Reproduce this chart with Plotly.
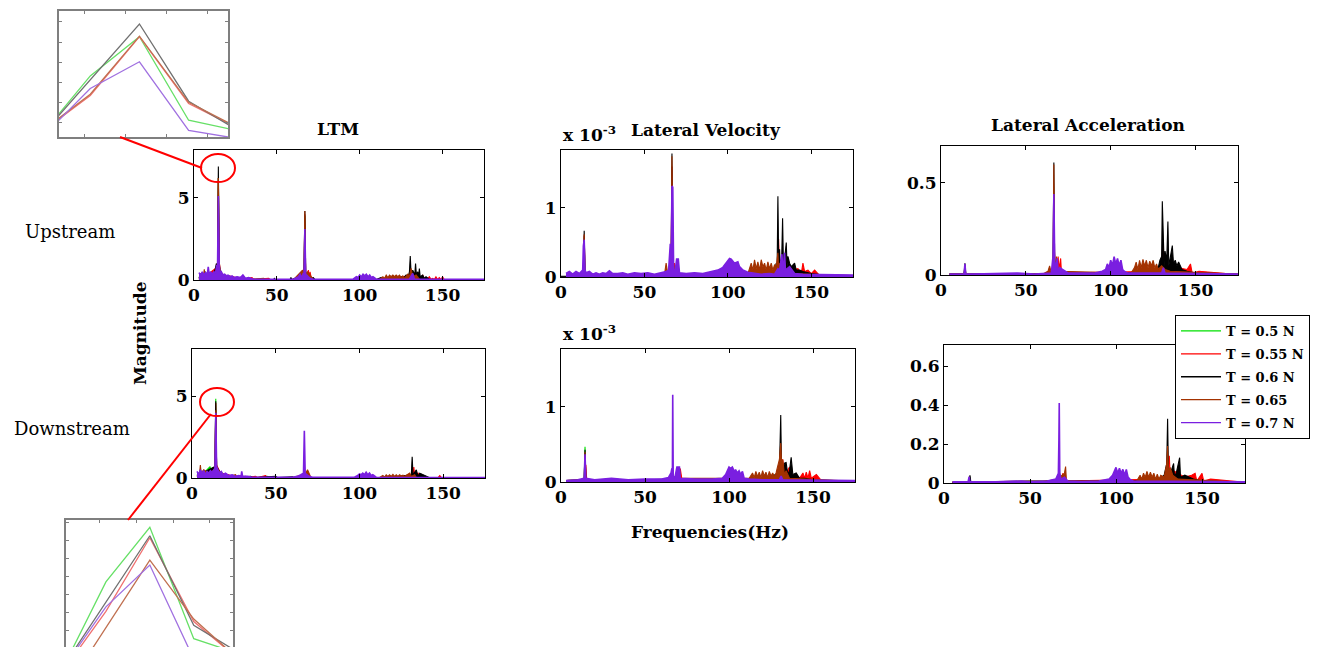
import plotly.graph_objects as go

W, H = 1343, 647

SERIES = ["T = 0.5 N", "T = 0.55 N", "T = 0.6 N", "T = 0.65", "T = 0.7 N"]
COLORS = ["#00e000", "#ff0000", "#000000", "#a33200", "#7a1fe0"]
INSET_COLORS = ["#66e066", "#f07070", "#707070", "#c07050", "#a070e0"]
X_TICKS = [0, 50, 100, 150]

# ---------------- LTM upstream (frequency Hz, magnitude) ----------------
LTM_UP_G = [(3,0.2),(5,0.3),(7,0.25),(9,0.35),(10.5,0.3),(12,0.25),(14.2,0.6),(14.7,6.2),(15.2,0.8),(17,0.3),(20,0.2),(25,0.05),(35,0.03),(60,0.03),(66.4,0.05),(66.9,3.9),(67.4,0.05),(80,0.02),(130,0.03),(131,0.5),(132,0.03),(175,0.02)]
LTM_UP_R = [(3,0.1),(5,0.3),(9,0.4),(13,0.7),(14.2,0.9),(14.7,6.2),(15.2,1.1),(16,0.4),(18,0.3),(21,0.25),(24,0.2),(26,0.03),(28,0.15),(29,0.03),(35,0.15),(36,0.03),(45,0.1),(46,0.03),(60,0.03),(66.4,0.1),(66.9,4.0),(67.4,0.1),(68.5,0.05),(69,0.6),(69.5,0.1),(70,0.5),(71,0.03),(112,0.03),(115,0.1),(116,0.03),(120,0.2),(121,0.03),(128,0.25),(129,0.05),(130,0.3),(131,0.05),(132,0.5),(133,0.1),(134,0.4),(135,0.05),(136,0.2),(137,0.05),(138,0.3),(139,0.05),(140,0.15),(141,0.05),(142,0.2),(143,0.05),(144,0.1),(145,0.03),(146,0.2),(147,0.03),(148,0.15),(149,0.03),(150,0.2),(151,0.03),(175,0.02)]
LTM_UP_K = [(3,0.1),(4,0.4),(5,0.1),(6,0.2),(7,0.5),(8,0.1),(9,0.2),(12,0.3),(13.5,1.0),(14.2,0.8),(14.7,6.9),(15.2,0.9),(16,0.4),(20,0.2),(22,0.03),(32,0.03),(32.5,0.15),(33,0.03),(48,0.03),(48.5,0.1),(49,0.03),(58,0.03),(58.5,0.15),(59,0.03),(66.4,0.3),(66.9,4.2),(67.4,0.4),(68,0.4),(69,0.05),(72,0.15),(73,0.03),(110,0.03),(113,0.15),(114,0.03),(125,0.2),(126,0.05),(128,0.3),(129,0.1),(130,0.5),(130.5,1.46),(131,0.4),(132,0.6),(133.2,0.3),(133.7,1.0),(134.2,0.3),(135,0.5),(135.5,0.2),(136,0.7),(136.5,0.2),(138,0.3),(139,0.1),(140,0.2),(142,0.05),(160,0.02),(175,0.02)]
LTM_UP_B = [(3,0.1),(5.7,0.2),(6.2,0.65),(6.7,0.2),(10,0.3),(13,0.4),(14.2,1.0),(14.7,6.2),(15.2,1.1),(16,0.5),(18,0.3),(22,0.2),(23,0.03),(30,0.2),(31,0.03),(42,0.1),(43,0.03),(60,0.03),(65.5,0.6),(66,0.1),(66.4,0.5),(66.9,4.2),(67.4,0.4),(68.5,0.5),(70,0.3),(72,0.03),(112,0.03),(114,0.2),(115,0.1),(116,0.3),(117,0.15),(118,0.3),(119,0.2),(120,0.3),(121,0.2),(122,0.3),(123,0.2),(124,0.3),(125,0.15),(126,0.25),(127,0.1),(128,0.2),(129,0.35),(130,0.2),(131,0.7),(132,0.2),(134,0.3),(136,0.05),(175,0.02)]
LTM_UP_P = [(3,0.45),(4,0.3),(5,0.5),(6,0.3),(7,0.45),(8,0.3),(8.6,0.8),(9.2,0.3),(10,0.5),(11,0.35),(12,0.5),(13,0.4),(13.7,0.9),(14.2,0.7),(14.7,5.1),(15.2,0.9),(15.8,0.4),(16.5,0.5),(17.5,0.3),(18.5,0.35),(19.5,0.25),(20.5,0.3),(22,0.2),(23,0.25),(24,0.15),(26,0.2),(28,0.15),(29.5,0.3),(31,0.1),(33,0.15),(36,0.05),(60,0.05),(63,0.2),(64,0.35),(65,0.15),(66,0.4),(66.4,0.3),(66.9,3.1),(67.4,0.3),(68,0.3),(69,0.2),(70,0.1),(72,0.05),(96,0.05),(98,0.2),(99,0.15),(100,0.3),(101,0.2),(102,0.35),(103,0.25),(104,0.35),(105,0.2),(106,0.3),(107,0.15),(108,0.2),(110,0.05),(130,0.05),(132,0.4),(133,0.05),(175,0.05)]

# ---------------- Lateral velocity upstream (x 1e-3) ----------------
LV_UP_G = [(3,0.02),(13.4,0.02),(13.9,0.5),(14.4,0.02),(66,0.02),(66.5,1.2),(67,0.02),(105,0.03),(130,0.03),(175,0.01)]
LV_UP_R = [(3,0.02),(13.4,0.03),(13.9,0.6),(14.4,0.03),(66,0.03),(66.5,1.6),(67,0.05),(68,0.2),(69,0.03),(125,0.03),(130,0.1),(130.4,0.55),(131,0.1),(134,0.2),(135,0.05),(138,0.1),(142,0.12),(144,0.05),(145,0.2),(146,0.08),(148,0.1),(150,0.05),(152,0.1),(155,0.02),(175,0.01)]
LV_UP_K = [(0,0.01),(3,0.01),(13.4,0.03),(13.9,0.67),(14.4,0.03),(30,0.03),(60,0.03),(66,0.05),(66.5,1.79),(67,0.05),(100,0.03),(120,0.04),(128,0.1),(129,0.2),(129.5,0.1),(130,1.17),(130.5,0.15),(131,0.4),(131.5,0.1),(132.3,0.3),(132.8,0.85),(133.3,0.2),(134,0.25),(135,0.5),(135.5,0.15),(136,0.3),(137,0.2),(138,0.15),(140,0.2),(141,0.1),(143,0.1),(145,0.08),(150,0.05),(160,0.02),(175,0.02)]
LV_UP_B = [(3,0.02),(13.4,0.03),(13.9,0.62),(14.4,0.03),(40,0.03),(62,0.03),(63,0.2),(64,0.04),(66,0.2),(66.5,1.75),(67,0.2),(70,0.04),(112,0.05),(114,0.2),(115,0.1),(116,0.25),(117,0.12),(118,0.22),(119,0.1),(120,0.25),(121,0.15),(122,0.2),(123,0.1),(124,0.22),(125,0.12),(126,0.2),(127,0.1),(128,0.18),(129,0.15),(130,0.35),(130.5,0.1),(131,0.2),(133,0.1),(136,0.05),(175,0.02)]
LV_UP_P = [(3,0.05),(5,0.08),(7,0.04),(9,0.08),(11,0.05),(13,0.1),(13.4,0.45),(13.9,0.54),(14.4,0.1),(15,0.06),(17,0.08),(19,0.04),(21,0.06),(23,0.04),(25,0.06),(27,0.05),(29,0.09),(31,0.05),(34,0.05),(37,0.06),(40,0.04),(44,0.06),(48,0.05),(52,0.06),(56,0.04),(60,0.06),(63,0.08),(64.5,0.1),(65.5,0.48),(66,0.2),(66.5,1.32),(67,1.3),(67.5,0.1),(68.5,0.1),(69.3,0.26),(70.3,0.26),(71,0.06),(75,0.05),(80,0.06),(85,0.05),(90,0.08),(94,0.1),(97,0.14),(99,0.2),(101,0.27),(102,0.26),(103,0.23),(104,0.2),(105,0.21),(106,0.22),(107,0.15),(109,0.1),(112,0.07),(116,0.05),(120,0.04),(125,0.05),(128,0.04),(130,0.12),(131,0.1),(132.4,0.33),(133,0.06),(134,0.35),(134.5,0.1),(137,0.15),(140,0.05),(145,0.04),(150,0.04),(160,0.03),(175,0.03)]

# ---------------- Lateral acceleration upstream ----------------
LA_UP_G = [(5,0.005),(13.6,0.005),(14.1,0.04),(14.6,0.005),(66,0.005),(66.5,0.3),(67,0.005),(175,0.003)]
LA_UP_R = [(5,0.005),(60,0.005),(66,0.02),(66.7,0.15),(67.5,0.02),(68.5,0.04),(69,0.1),(69.5,0.03),(70.5,0.09),(71,0.01),(128,0.02),(130,0.05),(130.8,0.19),(131.3,0.03),(134,0.05),(140,0.04),(145,0.03),(147,0.06),(148,0.01),(152,0.02),(175,0.003)]
LA_UP_K = [(5,0.005),(13.6,0.005),(14.1,0.064),(14.6,0.005),(60,0.005),(66,0.02),(66.5,0.61),(67,0.02),(90,0.008),(110,0.01),(120,0.02),(128,0.04),(129,0.08),(130,0.1),(130.4,0.40),(131,0.12),(131.5,0.05),(132,0.13),(133,0.08),(133.7,0.29),(134.2,0.05),(135,0.09),(136.3,0.16),(137,0.06),(138,0.08),(139,0.05),(140,0.07),(142,0.03),(145,0.02),(150,0.01),(175,0.005)]
LA_UP_B = [(5,0.005),(13.6,0.005),(14.1,0.05),(14.6,0.005),(60,0.005),(63,0.02),(64,0.05),(65,0.01),(66,0.03),(66.5,0.6),(67,0.03),(68,0.1),(69,0.02),(112,0.01),(114,0.04),(115,0.07),(116,0.03),(117,0.08),(118,0.04),(119,0.085),(120,0.05),(121,0.08),(122,0.04),(123,0.075),(124,0.05),(125,0.08),(126,0.04),(127,0.06),(128,0.03),(130,0.05),(132,0.03),(135,0.02),(175,0.005)]
LA_UP_P = [(5,0.005),(13.6,0.005),(14.1,0.06),(14.6,0.005),(25,0.006),(40,0.008),(45,0.01),(55,0.005),(65,0.01),(66,0.1),(66.5,0.44),(67,0.08),(67.5,0.02),(68,0.06),(68.5,0.09),(69,0.02),(70,0.04),(75,0.01),(90,0.01),(95,0.02),(97,0.03),(98,0.06),(99,0.04),(100,0.08),(101,0.05),(102,0.1),(103,0.06),(104,0.09),(105,0.05),(106,0.08),(107,0.03),(108,0.02),(110,0.01),(130,0.01),(131,0.04),(132,0.01),(175,0.005)]

# ---------------- LTM downstream ----------------
LTM_DN_G = [(3,0.2),(5,0.4),(7,0.3),(9,0.5),(10.8,0.7),(11.5,0.3),(12.5,0.6),(13.7,0.5),(14.2,4.86),(14.7,0.6),(16,0.4),(18,0.3),(20,0.2),(25,0.05),(40,0.03),(45,0.1),(46,0.02),(66.6,0.02),(67.1,0.2),(67.6,0.02),(130,0.03),(175,0.02)]
LTM_DN_R = [(3,0.1),(6,0.4),(9,0.3),(13.7,0.6),(14.2,4.6),(14.7,0.8),(17,0.3),(22,0.2),(24,0.03),(30,0.15),(31,0.03),(38,0.1),(39,0.03),(44,0.15),(45,0.03),(67,0.05),(68.5,0.3),(70,0.03),(120,0.03),(130,0.2),(132,0.1),(132.5,0.67),(133,0.1),(135,0.3),(136,0.05),(137,0.15),(138,0.03),(147,0.03),(148,0.15),(149,0.03),(175,0.02)]
LTM_DN_K = [(3,0.1),(5,0.3),(8,0.4),(13.7,0.7),(14.2,4.7),(14.7,0.7),(17,0.3),(20,0.03),(25,0.15),(26,0.03),(35,0.1),(36,0.03),(50,0.1),(51,0.03),(60,0.08),(61,0.03),(66,0.15),(67.1,0.3),(68,0.05),(70,0.03),(120,0.05),(128,0.15),(130,0.2),(131,0.2),(131.5,1.3),(132,0.2),(134,0.5),(135,0.1),(136,0.3),(138,0.2),(140,0.1),(142,0.02),(175,0.02)]
LTM_DN_B = [(3,0.1),(4.5,0.3),(5,0.8),(5.5,0.3),(7,0.5),(10,0.3),(13.7,0.5),(14.2,4.15),(14.7,0.6),(18,0.2),(20,0.03),(26,0.2),(27,0.03),(32,0.1),(33,0.03),(60,0.03),(66,0.2),(68,0.3),(69,0.5),(70,0.2),(71,0.03),(112,0.03),(114,0.15),(115,0.05),(116,0.2),(117,0.1),(118,0.2),(119,0.1),(120,0.22),(121,0.1),(122,0.2),(123,0.1),(124,0.2),(125,0.12),(126,0.18),(127,0.1),(128,0.15),(130,0.3),(131,0.1),(133,0.2),(134,0.03),(175,0.02)]
LTM_DN_P = [(3,0.4),(4,0.2),(5,0.5),(6,0.3),(7,0.45),(8,0.2),(9,0.4),(10,0.3),(11,0.45),(12,0.35),(13,0.5),(13.7,0.6),(14.2,4.0),(14.7,0.7),(15.5,0.5),(16.5,0.3),(17.5,0.4),(18.5,0.2),(20,0.3),(22,0.15),(24,0.2),(26,0.1),(28,0.15),(29.3,0.1),(29.7,0.4),(30.2,0.1),(33,0.1),(36,0.05),(60,0.05),(63,0.1),(65,0.2),(66.6,0.3),(67.1,2.9),(67.6,0.3),(68.5,0.2),(70,0.1),(72,0.05),(97,0.05),(99,0.15),(100,0.25),(101,0.2),(102,0.3),(103,0.2),(104,0.35),(105,0.2),(106,0.3),(107,0.15),(108,0.2),(110,0.05),(175,0.03)]

# ---------------- Lateral velocity downstream (x 1e-3) ----------------
LV_DN_G = [(3,0.02),(13.8,0.03),(14.3,0.47),(14.8,0.03),(40,0.02),(66,0.02),(70,0.02),(101,0.03),(130,0.02),(131,0.06),(132,0.02),(175,0.01)]
LV_DN_R = [(3,0.02),(14.3,0.03),(14.8,0.23),(15.3,0.03),(30,0.03),(66,0.03),(70,0.03),(71,0.18),(72,0.03),(125,0.03),(130,0.1),(132,0.3),(133,0.08),(136,0.2),(137,0.05),(140,0.1),(142,0.05),(144,0.12),(145,0.05),(146,0.13),(147,0.05),(148,0.15),(149,0.05),(152,0.1),(155,0.02),(175,0.01)]
LV_DN_K = [(3,0.02),(13.8,0.03),(14.3,0.43),(14.8,0.03),(50,0.03),(66,0.04),(105,0.04),(120,0.05),(128,0.1),(130,0.15),(130.8,0.89),(131.3,0.1),(132,0.15),(133,0.25),(134,0.26),(135,0.1),(136,0.15),(137,0.33),(138,0.1),(140,0.12),(142,0.05),(145,0.05),(150,0.03),(175,0.01)]
LV_DN_B = [(3,0.02),(13.8,0.03),(14.3,0.4),(14.8,0.03),(60,0.03),(66,0.04),(70,0.1),(70.5,0.2),(71,0.05),(112,0.05),(114,0.12),(115,0.06),(116,0.14),(117,0.07),(118,0.13),(119,0.06),(120,0.15),(121,0.08),(122,0.13),(123,0.06),(124,0.14),(125,0.08),(126,0.12),(127,0.07),(128,0.12),(129,0.2),(130,0.3),(130.8,0.52),(131.3,0.25),(132,0.3),(133,0.1),(134,0.15),(136,0.05),(175,0.01)]
LV_DN_P = [(3,0.02),(10,0.03),(13.8,0.05),(14.3,0.37),(14.8,0.05),(20,0.03),(30,0.05),(40,0.03),(50,0.04),(60,0.04),(64,0.06),(65.5,0.12),(66,0.18),(66.3,0.05),(66.5,1.16),(66.8,0.05),(68,0.08),(69,0.2),(70,0.2),(70.5,0.2),(71,0.05),(80,0.04),(90,0.04),(96,0.05),(98,0.1),(99,0.15),(100,0.2),(101,0.18),(102,0.2),(103,0.15),(104,0.16),(105,0.12),(106,0.15),(107,0.1),(108,0.14),(109,0.05),(112,0.04),(120,0.03),(130,0.03),(131,0.08),(132,0.03),(175,0.02)]

# ---------------- Lateral acceleration downstream ----------------
LA_DN_G = [(5,0.005),(14.6,0.005),(15.1,0.02),(15.6,0.005),(66.5,0.005),(67,0.1),(67.5,0.005),(175,0.003)]
LA_DN_R = [(5,0.005),(55,0.005),(60,0.01),(65,0.015),(68.5,0.01),(69,0.05),(69.5,0.01),(128,0.02),(130,0.05),(131,0.14),(131.5,0.03),(134,0.06),(140,0.03),(144,0.04),(146,0.05),(147,0.01),(150,0.05),(151,0.01),(155,0.02),(175,0.003)]
LA_DN_K = [(5,0.005),(14.6,0.005),(15.1,0.04),(15.6,0.005),(50,0.01),(70,0.01),(110,0.01),(125,0.02),(128,0.04),(129.5,0.1),(130,0.33),(130.5,0.05),(132,0.06),(133.5,0.1),(134,0.03),(135,0.05),(137,0.13),(137.5,0.03),(140,0.04),(145,0.02),(150,0.01),(175,0.003)]
LA_DN_B = [(5,0.005),(60,0.01),(66,0.02),(70,0.05),(70.7,0.084),(71.2,0.01),(112,0.01),(114,0.04),(115,0.02),(116,0.05),(117,0.03),(118,0.06),(119,0.03),(120,0.055),(121,0.03),(122,0.05),(123,0.02),(124,0.045),(125,0.02),(126,0.04),(128,0.03),(129.5,0.1),(130,0.19),(130.5,0.06),(131.5,0.08),(133,0.04),(136,0.02),(175,0.003)]
LA_DN_P = [(5,0.006),(14,0.006),(14.6,0.032),(15.1,0.006),(30,0.006),(45,0.01),(50,0.006),(60,0.01),(65,0.02),(66.5,0.05),(66.8,0.22),(67,0.41),(67.3,0.05),(68,0.02),(70,0.03),(72,0.01),(80,0.008),(90,0.01),(96,0.02),(98,0.04),(99,0.06),(100,0.08),(101,0.05),(102,0.075),(103,0.05),(104,0.07),(105,0.04),(106,0.07),(107,0.03),(108,0.02),(110,0.01),(175,0.006)]

# ---------------- zoom insets (normalised position, normalised magnitude) ----------------
INSET_UP_X = [-0.106, 0.185, 0.476, 0.767, 1.058]
INSET_UP_G = [0.013, 0.485, 0.796, 0.133, 0.05]
INSET_UP_R = [0.035, 0.33, 0.796, 0.265, 0.07]
INSET_UP_K = [0.011, 0.455, 0.897, 0.284, 0.053]
INSET_UP_B = [0.04, 0.34, 0.80, 0.275, 0.075]
INSET_UP_P = [-0.01, 0.385, 0.597, 0.053, -0.013]

INSET_DN_X = [-0.024, 0.239, 0.502, 0.765, 1.028]
INSET_DN_G = [-0.18, 0.513, 0.942, 0.066, -0.05]
INSET_DN_R = [-0.2, 0.28, 0.86, 0.2, -0.09]
INSET_DN_K = [-0.17, 0.35, 0.876, 0.17, -0.04]
INSET_DN_B = [-0.38, 0.15, 0.684, 0.22, -0.09]
INSET_DN_P = [-0.18, 0.316, 0.645, -0.095, -0.5]

# ---------------------------------------------------------------------------
def px(x):
    return x / W


def py(y):
    return 1 - y / H


FONT = "DejaVu Serif"

fig = go.Figure()

panels = [
    ([LTM_UP_G, LTM_UP_R, LTM_UP_K, LTM_UP_B, LTM_UP_P], [0, 7.9], [0, 5], (194, 484), (150, 280)),
    ([LV_UP_G, LV_UP_R, LV_UP_K, LV_UP_B, LV_UP_P], [0, 1.84], [0, 1], (561, 853), (150, 277)),
    ([LA_UP_G, LA_UP_R, LA_UP_K, LA_UP_B, LA_UP_P], [0, 0.7], [0, 0.5], (941, 1238), (146, 275)),
    ([LTM_DN_G, LTM_DN_R, LTM_DN_K, LTM_DN_B, LTM_DN_P], [0, 7.9], [0, 5], (192, 485), (349, 478)),
    ([LV_DN_G, LV_DN_R, LV_DN_K, LV_DN_B, LV_DN_P], [0, 1.77], [0, 1], (561, 855), (349, 482)),
    ([LA_DN_G, LA_DN_R, LA_DN_K, LA_DN_B, LA_DN_P], [0, 0.708], [0, 0.2, 0.4, 0.6], (944, 1245), (345, 483)),
]

layout_axes = {}
for i, (series, yr, yt, xd, yd) in enumerate(panels, start=1):
    xa = "x" if i == 1 else f"x{i}"
    ya = "y" if i == 1 else f"y{i}"
    for name, color, pts in zip(SERIES, COLORS, series):
        pts = sorted(pts)
        fig.add_trace(go.Scatter(
            x=[p[0] for p in pts], y=[p[1] for p in pts], mode="lines",
            line=dict(color=color, width=1.6 if color == COLORS[4] else 1.1),
            fill="tozeroy", fillcolor=color,
            showlegend=False, hoverinfo="skip", xaxis=xa, yaxis=ya))
    ax_common = dict(showline=True, linecolor="black", linewidth=1, mirror="ticks",
                     ticks="inside", ticklen=4, tickcolor="black", showgrid=False,
                     zeroline=False,
                     tickfont=dict(family=FONT, size=17, color="black", weight="bold"))
    layout_axes["xaxis" if i == 1 else f"xaxis{i}"] = dict(
        ax_common, range=[0, 175], tickvals=X_TICKS, domain=[px(xd[0]), px(xd[1])],
        anchor=ya)
    layout_axes["yaxis" if i == 1 else f"yaxis{i}"] = dict(
        ax_common, range=yr, tickvals=yt, domain=[py(yd[1]), py(yd[0])], anchor=xa)

# legend entries
for name, color in zip(SERIES, COLORS):
    fig.add_trace(go.Scatter(x=[None], y=[None], mode="lines", name=name,
                             line=dict(color=color, width=1.3), legendgroup=name,
                             xaxis="x", yaxis="y"))

# insets
insets = [
    (INSET_UP_X, [INSET_UP_G, INSET_UP_R, INSET_UP_K, INSET_UP_B, INSET_UP_P], (59, 228), (11, 137), 7,
     dict(tick0=0.15, dtick=0.242), dict(tick0=0.114, dtick=0.16), False),
    (INSET_DN_X, [INSET_DN_G, INSET_DN_R, INSET_DN_K, INSET_DN_B, INSET_DN_P], (66, 233), (520, 647), 8,
     dict(tick0=0.203, dtick=0.219), dict(tick0=0.132, dtick=0.142), True),
]
for xs, series, xd, yd, idx, xt, yt, open_bottom in insets:
    xa, ya = f"x{idx}", f"y{idx}"
    for color, ys in zip(INSET_COLORS, series):
        fig.add_trace(go.Scatter(x=xs, y=ys, mode="lines", line=dict(color=color, width=1.3),
                                 showlegend=False, hoverinfo="skip", xaxis=xa, yaxis=ya))
    common = dict(showline=True, linecolor="#7f7f7f", linewidth=1.5, ticks="inside", ticklen=3,
                  tickcolor="#7f7f7f", showticklabels=False, showgrid=False, zeroline=False,
                  range=[0, 1], tickmode="linear")
    layout_axes[f"xaxis{idx}"] = dict(common, **xt, domain=[px(xd[0]), px(xd[1])], anchor=ya,
                                      side="top" if open_bottom else "bottom",
                                      mirror=False if open_bottom else "ticks")
    layout_axes[f"yaxis{idx}"] = dict(common, **yt, domain=[max(0, py(yd[1])), py(yd[0])],
                                      anchor=xa, mirror="ticks")

shapes = [
    dict(type="circle", xref="paper", yref="paper", x0=px(201), x1=px(235), y0=py(182), y1=py(154),
         line=dict(color="red", width=2)),
    dict(type="circle", xref="paper", yref="paper", x0=px(200), x1=px(234), y0=py(416), y1=py(388),
         line=dict(color="red", width=2)),
    dict(type="line", xref="paper", yref="paper", x0=px(120), y0=py(137), x1=px(202), y1=py(168),
         line=dict(color="red", width=2)),
    dict(type="line", xref="paper", yref="paper", x0=px(211), y0=py(414), x1=px(128), y1=py(520),
         line=dict(color="red", width=2)),
]


def ann(text, x, y, size=17, bold=True, xanchor="center", angle=0):
    return dict(text=text, x=px(x), y=py(y), xref="paper", yref="paper", showarrow=False,
                xanchor=xanchor, yanchor="middle", textangle=angle,
                font=dict(family=FONT, size=size, color="black", weight="bold" if bold else "normal"))


annotations = [
    ann("LTM", 338, 129),
    ann("Lateral Velocity", 706, 130),
    ann("Lateral Acceleration", 1088, 125),
    ann("x 10<sup>-3</sup>", 561, 134, size=17, xanchor="left"),
    ann("x 10<sup>-3</sup>", 561, 333, size=17, xanchor="left"),
    ann("Upstream", 70, 232, size=18, bold=False),
    ann("Downstream", 72, 428, size=18, bold=False),
    ann("Magnitude", 140, 333, size=17, angle=-90),
    ann("Frequencies(Hz)", 710, 532, size=17),
]

fig.update_layout(
    width=W, height=H, margin=dict(l=0, r=0, t=0, b=0, autoexpand=False),
    paper_bgcolor="white", plot_bgcolor="white",
    showlegend=True,
    legend=dict(x=px(1175), y=py(315), xanchor="left", yanchor="top",
                bgcolor="white", bordercolor="black", borderwidth=1,
                font=dict(family=FONT, size=13, color="black", weight="bold"),
                tracegroupgap=3, itemwidth=40),
    shapes=shapes, annotations=annotations,
    **layout_axes,
)

fig.write_html("out.html")
